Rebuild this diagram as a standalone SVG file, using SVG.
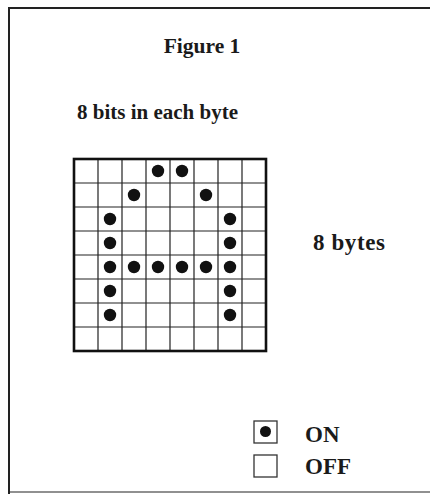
<svg xmlns="http://www.w3.org/2000/svg" width="430" height="494" viewBox="0 0 430 494">
<style>
.t{font-family:"Liberation Serif","Times New Roman",serif;font-weight:bold;fill:#1a1a1a}
.frame{stroke:#222;stroke-width:2;fill:none}
.thin{stroke:#222;stroke-width:1.2;fill:none}
.thick{stroke:#111;stroke-width:2.6;fill:none}
.dot{fill:#111}
.box{stroke:#333;stroke-width:1.3;fill:#fff}
</style>
<defs>
<circle id="d" r="6.2" class="dot"/>
</defs>
<rect width="430" height="494" fill="#fff"/>
<g id="frame">
<path class="frame" d="M9,494 V8 H430"/>
<path class="frame" d="M9,492 H430" stroke-opacity="0.5"/>
</g>
<g id="title"><text class="t" x="202" y="53" font-size="21.5" text-anchor="middle">Figure 1</text></g>
<g id="bits-label"><text class="t" x="77" y="119" font-size="21">8 bits in each byte</text></g>
<g id="bytes-label"><text class="t" x="313" y="250" font-size="23" letter-spacing="0.6">8 bytes</text></g>
<g id="grid">
<path class="thin" d="M98,159V351M122,159V351M146,159V351M170,159V351M194,159V351M218,159V351M242,159V351M74,183H266M74,207H266M74,231H266M74,255H266M74,279H266M74,303H266M74,327H266"/>
<rect class="thick" x="74" y="159" width="192" height="192"/>
</g>
<g id="dots">
<use href="#d" x="158" y="171"/><use href="#d" x="182" y="171"/>
<use href="#d" x="134" y="195"/><use href="#d" x="206" y="195"/>
<use href="#d" x="110" y="219"/><use href="#d" x="230" y="219"/>
<use href="#d" x="110" y="243"/><use href="#d" x="230" y="243"/>
<use href="#d" x="110" y="267"/><use href="#d" x="134" y="267"/><use href="#d" x="158" y="267"/><use href="#d" x="182" y="267"/><use href="#d" x="206" y="267"/><use href="#d" x="230" y="267"/>
<use href="#d" x="110" y="291"/><use href="#d" x="230" y="291"/>
<use href="#d" x="110" y="315"/><use href="#d" x="230" y="315"/>
</g>
<g id="legend-on">
<rect class="box" x="254" y="421" width="23" height="22"/>
<circle cx="265.5" cy="431.5" r="5.5" class="dot"/>
<text class="t" x="305" y="442" font-size="23">ON</text>
</g>
<g id="legend-off">
<rect class="box" x="254" y="455" width="23" height="22"/>
<text class="t" x="305" y="474" font-size="23">OFF</text>
</g>
</svg>
